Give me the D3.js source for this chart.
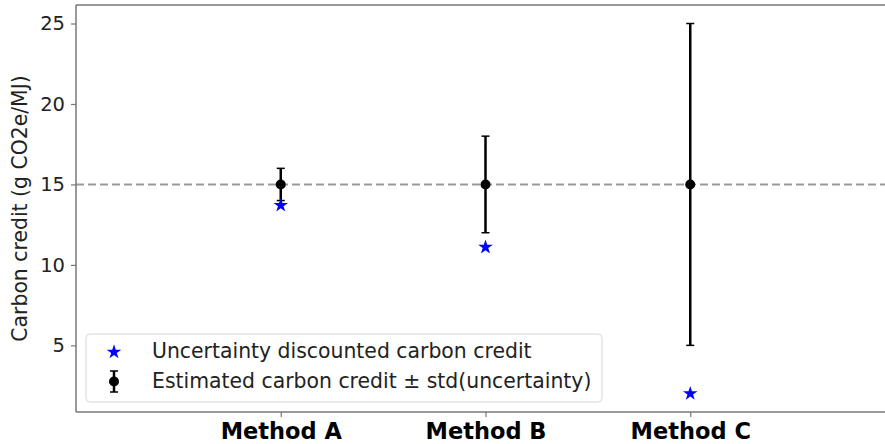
<!DOCTYPE html>
<html><head><meta charset="utf-8">
<script src="https://cdn.jsdelivr.net/npm/d3@7"></script>
<style>body{margin:0;background:#fff}svg{display:block;font-family:"DejaVu Sans",sans-serif}</style>
</head><body><svg id="c" width="885" height="444"></svg>
<script>
const categories = ["Method A", "Method B", "Method C"];
const estimated = [15, 15, 15];
const stdDev = [1, 3, 10];
const discounted = [13.7, 11.1, 2.0];
const referenceLine = 15;
const yTicks = [5, 10, 15, 20, 25];
const legendLabels = ["Uncertainty discounted carbon credit", "Estimated carbon credit \u00b1 std(uncertainty)"];
const yLabel = "Carbon credit (g CO2e/MJ)";

const svg = d3.select("#c");
const L = 76, T = 5, B = 412, Rclip = 885;
const x = d3.scaleLinear().domain([-1, 3]).range([L, 895]);
const y = d3.scaleLinear().domain([0.86, 26.15]).range([B, T]);

svg.append("defs").append("clipPath").attr("id", "clip")
  .append("rect").attr("x", L).attr("y", T).attr("width", Rclip - L).attr("height", B - T);

const g = svg.append("g").attr("clip-path", "url(#clip)");
g.append("line").attr("x1", L).attr("x2", Rclip).attr("y1", y(referenceLine)).attr("y2", y(referenceLine))
  .attr("stroke", "#999").attr("stroke-width", 2).attr("stroke-dasharray", "8,4");

const idx = d3.range(categories.length);
idx.forEach(i => {
  const cx = x(i);
  const lo = y(estimated[i] - stdDev[i]), hi = y(estimated[i] + stdDev[i]);
  g.append("line").attr("x1", cx).attr("x2", cx).attr("y1", lo).attr("y2", hi).attr("stroke", "#000").attr("stroke-width", 2.5);
  [lo, hi].forEach(v => g.append("line").attr("x1", cx - 4).attr("x2", cx + 4).attr("y1", v).attr("y2", v).attr("stroke", "#000").attr("stroke-width", 1.5));
  g.append("circle").attr("cx", cx).attr("cy", y(estimated[i])).attr("r", 5).attr("fill", "#000");
});
const star = d3.symbol().type(d3.symbolStar).size(66);
idx.forEach(i => {
  g.append("path").attr("d", star).attr("transform", `translate(${x(i)},${y(discounted[i])})`).attr("fill", "#0000ff");
});

const sp = svg.append("g").attr("stroke", "#777").attr("stroke-width", 1.5);
sp.append("line").attr("x1", L).attr("x2", Rclip).attr("y1", T).attr("y2", T);
sp.append("line").attr("x1", L).attr("x2", Rclip).attr("y1", B).attr("y2", B);
sp.append("line").attr("x1", L).attr("x2", L).attr("y1", T).attr("y2", B);

const ya = svg.append("g").attr("transform", `translate(${L},0)`)
  .call(d3.axisLeft(y).tickValues(yTicks).tickSize(5).tickPadding(6).tickFormat(d3.format("d")));
ya.select(".domain").remove();
ya.selectAll(".tick line").attr("stroke", "#777").attr("stroke-width", 1.2);
ya.selectAll(".tick text").attr("font-size", 19.5).attr("fill", "#222").attr("font-family", "DejaVu Sans");

const xa = svg.append("g").attr("transform", `translate(0,${B})`)
  .call(d3.axisBottom(x).tickValues(idx).tickSize(5).tickPadding(6).tickFormat(i => categories[i]));
xa.select(".domain").remove();
xa.selectAll(".tick line").attr("stroke", "#777").attr("stroke-width", 1.2);
xa.selectAll(".tick text").attr("font-size", 22.5).attr("font-weight", "bold").attr("fill", "#000").attr("font-family", "DejaVu Sans");

svg.append("text").attr("transform", `translate(27,${(T + B) / 2}) rotate(-90)`)
  .attr("text-anchor", "middle").attr("font-size", 20.4).attr("fill", "#222").text(yLabel);

const lg = svg.append("g");
lg.append("rect").attr("x", 86).attr("y", 334).attr("width", 516).attr("height", 68).attr("rx", 4)
  .attr("fill", "#fff").attr("fill-opacity", 0.8).attr("stroke", "#d6d6d6").attr("stroke-width", 1);
lg.append("path").attr("d", star).attr("transform", "translate(114,352)").attr("fill", "#0000ff");
lg.append("line").attr("x1", 114).attr("x2", 114).attr("y1", 371).attr("y2", 392).attr("stroke", "#000").attr("stroke-width", 2.5);
[371, 392].forEach(v => lg.append("line").attr("x1", 110).attr("x2", 118).attr("y1", v).attr("y2", v).attr("stroke", "#000").attr("stroke-width", 1.5));
lg.append("circle").attr("cx", 114).attr("cy", 381.5).attr("r", 5).attr("fill", "#000");
legendLabels.forEach((t, i) => lg.append("text").attr("x", 152).attr("y", 357.7 + i * 30.6)
  .attr("font-size", 20.4).attr("fill", "#222").text(t));
</script></body></html>
